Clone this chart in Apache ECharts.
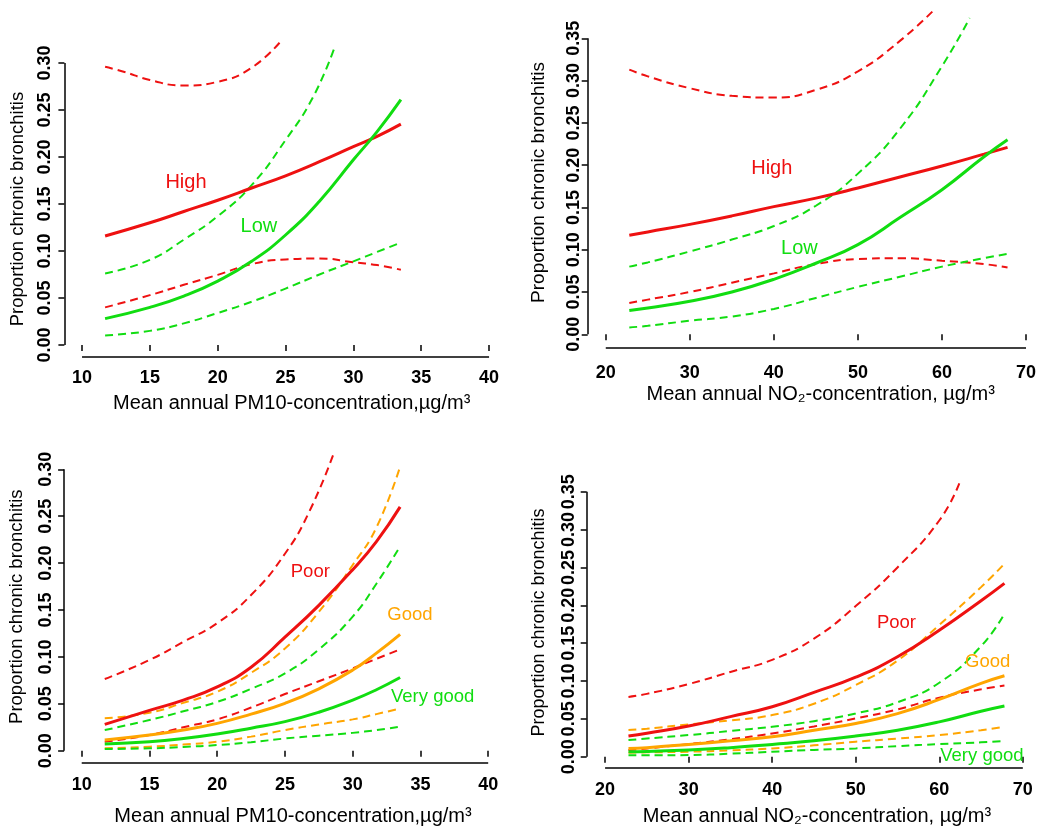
<!DOCTYPE html>
<html>
<head>
<meta charset="utf-8">
<script src="https://cdn.jsdelivr.net/npm/echarts@6/dist/echarts.min.js"></script>
<style>
  html, body { margin: 0; padding: 0; background: #fff; }
  #chart { width: 1055px; height: 830px; }
</style>
</head>
<body>
<div id="chart"></div>
<script>
// ---- Tick values ----
const pm10Ticks = [10, 15, 20, 25, 30, 35, 40];
const no2Ticks = [20, 30, 40, 50, 60, 70];
const propTicksLow = [0, 0.05, 0.10, 0.15, 0.20, 0.25, 0.30];
const propTicksHigh = [0, 0.05, 0.10, 0.15, 0.20, 0.25, 0.30, 0.35];

// ---- Exposure grids (µg/m³) ----
const pm10X = [11.7, 15, 17.5, 20, 22.5, 25, 27.5, 30, 31.75, 33.5];
const no2X = [22.8, 25, 30, 35, 40, 45, 50, 55, 60, 65, 67.8];

// ---- PM10 by High / Low group ----
const pmHighFit = [0.116, 0.130, 0.142, 0.154, 0.167, 0.180, 0.195, 0.211, 0.222, 0.235];
const pmHighLo = [0.040, 0.053, 0.064, 0.0746, 0.086, 0.091, 0.092, 0.088, 0.085, 0.080];
const pmHighHiX = [11.7, 13, 15, 17.5, 20, 22.5, 24.7];
const pmHighHi = [0.296, 0.291, 0.282, 0.276, 0.280, 0.295, 0.324];
const pmLowFit = [0.028, 0.040, 0.052, 0.068, 0.089, 0.117, 0.153, 0.197, 0.227, 0.261];
const pmLowLo = [0.010, 0.015, 0.023, 0.034, 0.046, 0.060, 0.075, 0.089, 0.099, 0.109];
const pmLowHiX = [11.7, 15, 17.5, 20, 22.5, 25, 27, 28.6];
const pmLowHi = [0.076, 0.0905, 0.112, 0.137, 0.170, 0.218, 0.263, 0.316];

// ---- NO2 by High / Low group ----
const noHighFit = [0.117, 0.121, 0.130, 0.140, 0.151, 0.161, 0.173, 0.186, 0.199, 0.213, 0.221];
const noHighLo = [0.037, 0.041, 0.050, 0.061, 0.072, 0.083, 0.089, 0.090, 0.087, 0.083, 0.079];
const noHighHiX = [22.8, 25, 30, 35, 40, 45, 50, 55, 59.2];
const noHighHi = [0.313, 0.305, 0.291, 0.282, 0.280, 0.289, 0.311, 0.347, 0.385];
const noLowFit = [0.028, 0.031, 0.039, 0.050, 0.065, 0.084, 0.106, 0.138, 0.171, 0.210, 0.230];
const noLowLo = [0.008, 0.010, 0.016, 0.021, 0.030, 0.043, 0.056, 0.068, 0.080, 0.090, 0.095];
const noLowHiX = [22.8, 25, 30, 35, 40, 45, 50, 55, 60, 63.3];
const noLowHi = [0.080, 0.085, 0.098, 0.112, 0.128, 0.152, 0.190, 0.243, 0.317, 0.374];

// ---- PM10 by Poor / Good / Very good ----
const pmPoorFit = [0.028, 0.043, 0.054, 0.068, 0.089, 0.121, 0.155, 0.193, 0.223, 0.260];
const pmPoorLo = [0.0096, 0.0167, 0.025, 0.0334, 0.046, 0.0604, 0.074, 0.0878, 0.098, 0.108];
const pmPoorHiX = [11.7, 15, 17.5, 20, 22.5, 25, 26.8, 28.6];
const pmPoorHi = [0.0764, 0.0967, 0.116, 0.136, 0.166, 0.210, 0.255, 0.317];
const pmGoodFit = [0.0114, 0.0167, 0.022, 0.0291, 0.039, 0.0505, 0.066, 0.086, 0.104, 0.124];
const pmGoodHi = [0.0345, 0.0405, 0.051, 0.0629, 0.083, 0.109, 0.148, 0.198, 0.238, 0.303];
const pmGoodLo = [0.0025, 0.0043, 0.0065, 0.0096, 0.015, 0.022, 0.028, 0.0334, 0.039, 0.045];
const pmVgFit = [0.0071, 0.0096, 0.013, 0.0178, 0.024, 0.031, 0.041, 0.054, 0.065, 0.078];
const pmVgHi = [0.022, 0.0327, 0.042, 0.052, 0.066, 0.0825, 0.108, 0.143, 0.178, 0.218];
const pmVgLo = [0.0018, 0.0025, 0.004, 0.006, 0.009, 0.013, 0.016, 0.019, 0.022, 0.0256];

// ---- NO2 by Poor / Good / Very good ----
const noPoorFit = [0.0273, 0.031, 0.0405, 0.053, 0.066, 0.085, 0.105, 0.132, 0.167, 0.206, 0.229];
const noPoorLo = [0.0088, 0.011, 0.0167, 0.023, 0.0308, 0.040, 0.0506, 0.0625, 0.078, 0.089, 0.094];
const noPoorHiX = [22.8, 25, 30, 35, 40, 45, 50, 55, 60, 62.4];
const noPoorHi = [0.079, 0.083, 0.096, 0.112, 0.128, 0.156, 0.199, 0.250, 0.312, 0.361];
const noGoodFit = [0.011, 0.012, 0.0163, 0.021, 0.0264, 0.035, 0.044, 0.057, 0.0757, 0.097, 0.107];
const noGoodHi = [0.0352, 0.037, 0.0427, 0.048, 0.055, 0.070, 0.0947, 0.127, 0.174, 0.224, 0.255];
const noGoodLo = [0.0053, 0.0058, 0.0066, 0.0085, 0.011, 0.015, 0.0198, 0.024, 0.0286, 0.035, 0.0396];
const noVgFit = [0.0066, 0.007, 0.0088, 0.012, 0.0163, 0.021, 0.0273, 0.035, 0.046, 0.060, 0.0669];
const noVgHi = [0.022, 0.024, 0.0286, 0.034, 0.0396, 0.047, 0.0572, 0.072, 0.0977, 0.146, 0.189];
const noVgLo = [0.0018, 0.0019, 0.0022, 0.004, 0.0066, 0.009, 0.011, 0.014, 0.0167, 0.019, 0.0207];

// ---- Styling ----
const RED = '#ee1111';
const GREEN = '#11dd11';
const ORANGE = '#ffa500';
const FONT = '"Liberation Sans", Arial, Helvetica, sans-serif';

// Panel frames: pixel box plus the value range it spans
const panels = [
  { box: { left: 64.4, top: 34.8, width: 442.3, height: 322.2 }, x: [8.7, 41.3], y: [-0.0128, 0.33],
    xTicks: pm10Ticks, yTicks: propTicksLow, yLabelMargin: 10, xLabelMargin: 12 },
  { box: { left: 587.7, top: 4.5, width: 456.4, height: 342.8 }, x: [17.85, 72.15], y: [-0.0154, 0.39],
    xTicks: no2Ticks, yTicks: propTicksHigh, yLabelMargin: 5, xLabelMargin: 17 },
  { box: { left: 64.1, top: 441.2, width: 441.7, height: 321.5 }, x: [8.7, 41.3], y: [-0.0128, 0.33],
    xTicks: pm10Ticks, yTicks: propTicksLow, yLabelMargin: 9, xLabelMargin: 13 },
  { box: { left: 586.7, top: 476.6, width: 454.5, height: 291.1 }, x: [17.8, 72.2], y: [-0.0145, 0.37],
    xTicks: no2Ticks, yTicks: propTicksHigh, yLabelMargin: 9, xLabelMargin: 13 }
];

const grids = panels.map(p => Object.assign({ containLabel: false }, p.box));

const xAxes = panels.map((p, i) => ({
  type: 'value', gridIndex: i, min: p.x[0], max: p.x[1],
  axisLine: { show: false },
  splitLine: { show: false },
  axisTick: { show: true, length: 6, customValues: p.xTicks, lineStyle: { color: '#000', width: 1.5 } },
  axisLabel: {
    customValues: p.xTicks, margin: p.xLabelMargin,
    color: '#000', fontSize: 18, fontWeight: 'bold', fontFamily: FONT,
    formatter: v => String(v)
  }
}));

const yAxes = panels.map((p, i) => ({
  type: 'value', gridIndex: i, min: p.y[0], max: p.y[1],
  axisLine: { show: false },
  splitLine: { show: false },
  axisTick: { show: true, length: 6, customValues: p.yTicks, lineStyle: { color: '#000', width: 1.5 } },
  axisLabel: {
    customValues: p.yTicks, margin: p.yLabelMargin, rotate: 90,
    color: '#000', fontSize: 18, fontWeight: 'bold', fontFamily: FONT,
    formatter: v => v.toFixed(2)
  }
}));

function pairs(xs, ys) {
  return ys.map((y, k) => [xs[k], y]);
}

function curve(panel, xs, ys, color, dashed) {
  return {
    type: 'line', xAxisIndex: panel, yAxisIndex: panel,
    data: pairs(xs, ys),
    showSymbol: false, symbol: 'none',
    smooth: 0.5,
    clip: false, silent: true,
    lineStyle: { color: color, width: dashed ? 2 : 3, type: dashed ? [8, 5] : 'solid' },
    z: dashed ? 2 : 3
  };
}

// Detached axis lines spanning only the first to last tick
function axisFrame(i) {
  const p = panels[i];
  return {
    silent: true, symbol: ['none', 'none'], animation: false,
    label: { show: false }, emphasis: { disabled: true },
    lineStyle: { color: '#000', width: 1.5, type: 'solid' },
    data: [
      [{ coord: [p.x[0], p.yTicks[0]] }, { coord: [p.x[0], p.yTicks[p.yTicks.length - 1]] }],
      [{ coord: [p.xTicks[0], p.y[0]] }, { coord: [p.xTicks[p.xTicks.length - 1], p.y[0]] }]
    ]
  };
}

// Group name printed beside its curve
function tag(text, coord, color, size) {
  return {
    symbol: 'circle', symbolSize: 1, silent: true, animation: false,
    itemStyle: { color: 'rgba(0,0,0,0)' },
    label: {
      show: true, position: 'inside', formatter: text,
      color: color, fontSize: size, fontFamily: FONT, fontWeight: 'normal'
    },
    data: [{ coord: coord, name: text, value: 0 }]
  };
}

const series = [];

// Panel 1
let s = curve(0, pm10X, pmHighFit, RED, false);
s.markLine = axisFrame(0);
s.markPoint = tag('High', [17.66, 0.173], RED, 20);
series.push(s);
series.push(curve(0, pm10X, pmHighLo, RED, true));
series.push(curve(0, pmHighHiX, pmHighHi, RED, true));
s = curve(0, pm10X, pmLowFit, GREEN, false);
s.markPoint = tag('Low', [23.04, 0.126], GREEN, 20);
series.push(s);
series.push(curve(0, pm10X, pmLowLo, GREEN, true));
series.push(curve(0, pmLowHiX, pmLowHi, GREEN, true));

// Panel 2
s = curve(1, no2X, noHighFit, RED, false);
s.markLine = axisFrame(1);
s.markPoint = tag('High', [39.75, 0.196], RED, 20);
series.push(s);
series.push(curve(1, no2X, noHighLo, RED, true));
series.push(curve(1, noHighHiX, noHighHi, RED, true));
s = curve(1, no2X, noLowFit, GREEN, false);
s.markPoint = tag('Low', [43.04, 0.102], GREEN, 20);
series.push(s);
series.push(curve(1, no2X, noLowLo, GREEN, true));
series.push(curve(1, noLowHiX, noLowHi, GREEN, true));

// Panel 3
s = curve(2, pm10X, pmPoorFit, RED, false);
s.markLine = axisFrame(2);
s.markPoint = tag('Poor', [26.87, 0.191], RED, 18.5);
series.push(s);
series.push(curve(2, pm10X, pmPoorLo, RED, true));
series.push(curve(2, pmPoorHiX, pmPoorHi, RED, true));
s = curve(2, pm10X, pmGoodFit, ORANGE, false);
s.markPoint = tag('Good', [34.22, 0.145], ORANGE, 18.5);
series.push(s);
series.push(curve(2, pm10X, pmGoodHi, ORANGE, true));
series.push(curve(2, pm10X, pmGoodLo, ORANGE, true));
s = curve(2, pm10X, pmVgFit, GREEN, false);
s.markPoint = tag('Very good', [35.9, 0.0576], GREEN, 18.5);
series.push(s);
series.push(curve(2, pm10X, pmVgHi, GREEN, true));
series.push(curve(2, pm10X, pmVgLo, GREEN, true));

// Panel 4
s = curve(3, no2X, noPoorFit, RED, false);
s.markLine = axisFrame(3);
s.markPoint = tag('Poor', [54.88, 0.177], RED, 18.5);
series.push(s);
series.push(curve(3, no2X, noPoorLo, RED, true));
series.push(curve(3, noPoorHiX, noPoorHi, RED, true));
s = curve(3, no2X, noGoodFit, ORANGE, false);
s.markPoint = tag('Good', [65.8, 0.1246], ORANGE, 18.5);
series.push(s);
series.push(curve(3, no2X, noGoodHi, ORANGE, true));
series.push(curve(3, no2X, noGoodLo, ORANGE, true));
s = curve(3, no2X, noVgFit, GREEN, false);
s.markPoint = tag('Very good', [65.1, 0.0013], GREEN, 18.5);
series.push(s);
series.push(curve(3, no2X, noVgHi, GREEN, true));
series.push(curve(3, no2X, noVgLo, GREEN, true));

// Axis titles
function title(text, x, y, size, vertical) {
  return {
    type: 'text', x: x, y: y, rotation: vertical ? Math.PI / 2 : 0, silent: true,
    style: {
      text: text, fill: '#000', font: 'normal ' + size + 'px ' + FONT,
      align: 'center', verticalAlign: 'middle', textAlign: 'center', textVerticalAlign: 'middle'
    }
  };
}

const graphics = [
  title('Proportion chronic bronchitis', 18, 209, 18.5, true),
  title('Proportion chronic bronchitis', 539, 182.5, 19, true),
  title('Proportion chronic bronchitis', 17.3, 606.7, 18.5, true),
  title('Proportion chronic bronchitis', 539, 622.5, 18, true),
  title('Mean annual PM10-concentration,µg/m³', 291.7, 403.5, 20, false),
  title('Mean annual NO₂-concentration, µg/m³', 820.7, 394, 20, false),
  title('Mean annual PM10-concentration,µg/m³', 293, 816.5, 20, false),
  title('Mean annual NO₂-concentration, µg/m³', 817, 816.5, 20, false)
];

const chart = echarts.init(document.getElementById('chart'), null, { renderer: 'canvas' });
chart.setOption({
  animation: false,
  backgroundColor: '#fff',
  textStyle: { fontFamily: FONT },
  grid: grids,
  xAxis: xAxes,
  yAxis: yAxes,
  series: series,
  graphic: graphics
});
</script>
</body>
</html>
